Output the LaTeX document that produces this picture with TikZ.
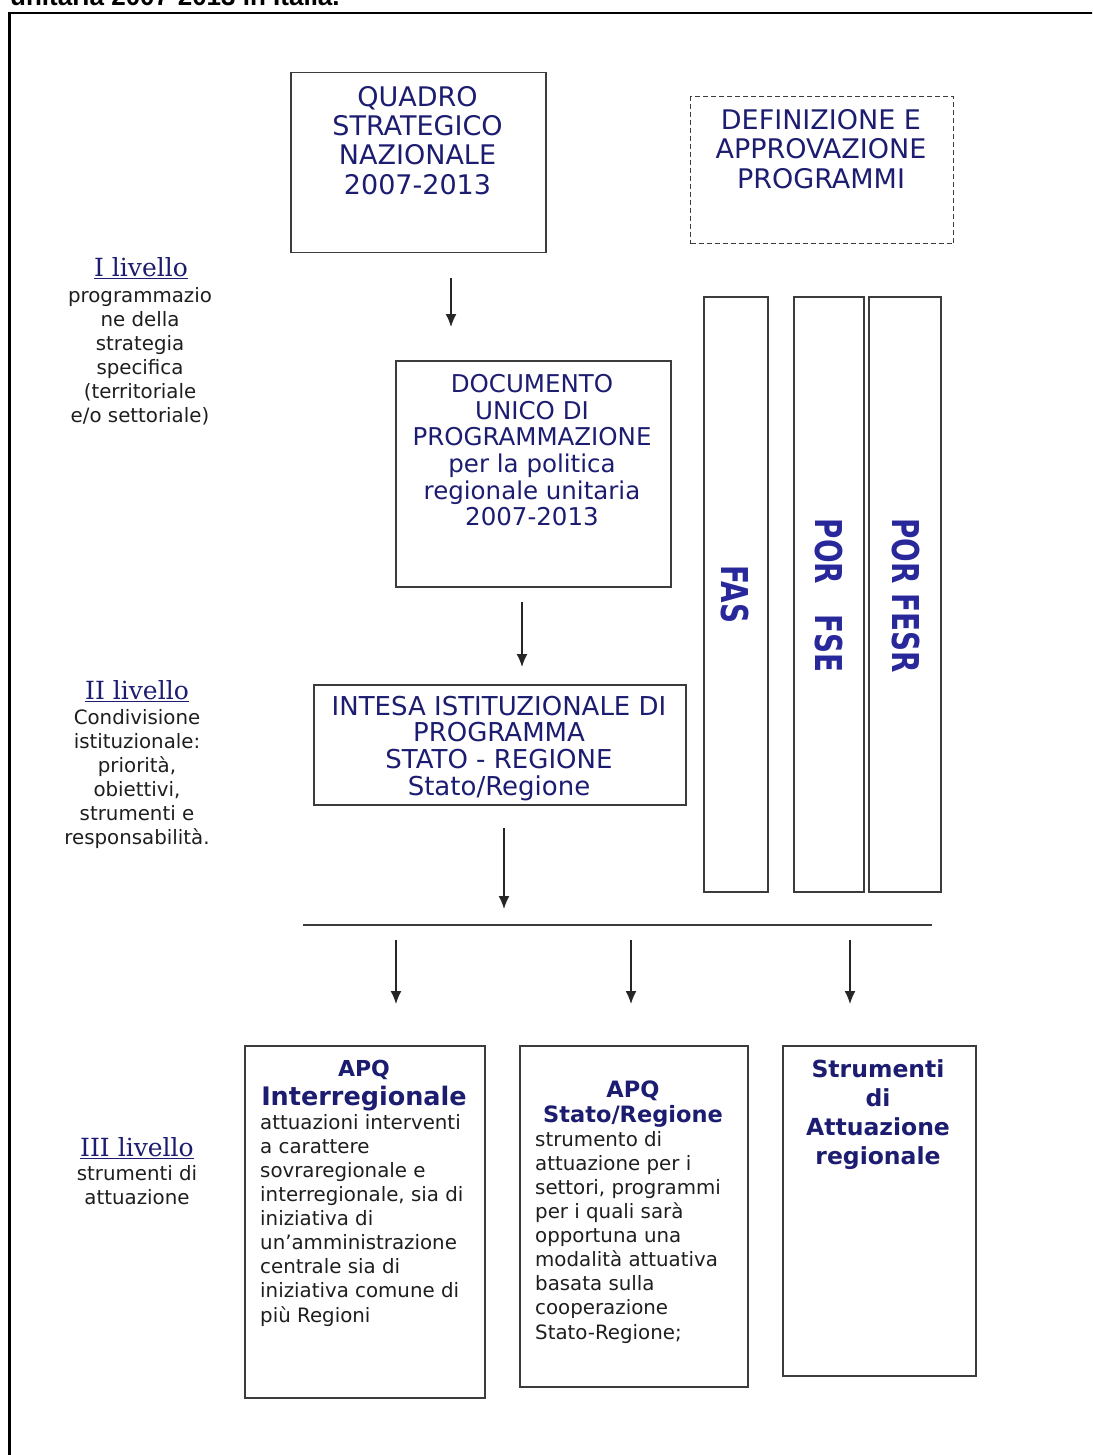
\documentclass[tikz,border=0pt]{standalone}
\usepackage{fontspec}
\setmainfont{DejaVu Sans}
\newfontfamily\lserif{DejaVu Serif}
\newfontfamily\arialb{Liberation Sans}
\usetikzlibrary{arrows.meta}
\definecolor{navy}{RGB}{28,28,112}
\definecolor{fasblue}{RGB}{40,40,155}
\definecolor{bodyc}{RGB}{30,30,30}
\definecolor{boxc}{RGB}{60,60,60}
\tikzset{
  box/.style={draw=boxc, line width=1.5pt, rectangle, inner sep=0, anchor=north west},
  dbox/.style={box, dashed, dash pattern=on 5pt off 3pt, line width=1.3pt},
  txt/.style={inner sep=0, align=center, anchor=north, text=navy},
  body/.style={inner sep=0, align=left, anchor=north west, text=bodyc, font=\fontsize{19.8}{24.1}\selectfont},
  lbody/.style={inner sep=0, align=center, anchor=north, text=bodyc, font=\fontsize{19.8}{24}\selectfont},
  lhead/.style={inner sep=0, anchor=base, text=navy, font=\lserif\fontsize{25}{30}\selectfont},
  vtxt/.style={inner sep=0, rotate=-90, text=fasblue, font=\bfseries\fontsize{37}{40}\selectfont},
  arr/.style={line width=1.5pt, draw=black!85, -{Latex[length=13pt,width=11pt]}},
}
\begin{document}
\begin{tikzpicture}[x=1pt,y=-1pt]
\useasboundingbox (0,0) rectangle (1092,1455);
\clip (0,0) rectangle (1092,1455);
% caption fragment and frame
\node[inner sep=0, anchor=base west, font=\arialb\bfseries\fontsize{26}{30}\selectfont] (title) at (10,6) {unitaria 2007-2013 in Italia.};
\draw[line width=2.5pt] (9.5,1460) -- (9.5,13) -- (1095,13);

% boxes
\node[box, minimum width=255, minimum height=180] (qsn) at (290,72) {};
\node[dbox, minimum width=263, minimum height=147] (def) at (690,96) {};
\node[box, minimum width=275, minimum height=226] (dup) at (395,360) {};
\node[box, minimum width=372, minimum height=120] (intesa) at (313,684) {};
\node[box, minimum width=64, minimum height=595] (fas) at (703,296) {};
\node[box, minimum width=70, minimum height=595] (fse) at (793,296) {};
\node[box, minimum width=72, minimum height=595] (fesr) at (868,296) {};
\node[box, minimum width=240, minimum height=352] (apq1) at (244,1045) {};
\node[box, minimum width=228, minimum height=341] (apq2) at (519,1045) {};
\node[box, minimum width=193, minimum height=330] (strum) at (782,1045) {};

% box texts
\node[txt, font=\fontsize{27}{29.3}\selectfont] (qsnt) at (417.5,86) {QUADRO\\STRATEGICO\\NAZIONALE\\2007-2013};
\node[txt, font=\fontsize{27}{29.5}\selectfont] (deft) at (821,109) {DEFINIZIONE E\\APPROVAZIONE\\PROGRAMMI};
\node[txt, font=\fontsize{24.5}{26.7}\selectfont] (dupt) at (532,374) {DOCUMENTO\\UNICO DI\\PROGRAMMAZIONE\\per la politica\\regionale unitaria\\2007-2013};
\node[txt, font=\fontsize{26}{26.7}\selectfont] (intt) at (499,695.5) {INTESA ISTITUZIONALE DI\\PROGRAMMA\\STATO - REGIONE\\Stato/Regione};

\node[vtxt] (fast) at (735,594.5) {\scalebox{0.75}[1]{FAS}};
\node[vtxt] (fset) at (829,595.5) {\scalebox{0.75}[1]{POR\hspace{40pt}FSE}};
\node[vtxt] (fesrt) at (906,595.5) {\scalebox{0.75}[1]{POR FESR}};

\node[txt, font=\bfseries\fontsize{22}{26}\selectfont] (apq1a) at (364,1060) {APQ};
\node[txt, font=\bfseries\fontsize{25.5}{29}\selectfont] (apq1b) at (364,1086) {Interregionale};
\node[body] (apq1c) at (260,1114) {attuazioni interventi\\a carattere\\sovraregionale e\\interregionale, sia di\\iniziativa di\\un’amministrazione\\centrale sia di\\iniziativa comune di\\più Regioni};

\node[txt, font=\bfseries\fontsize{22.5}{25}\selectfont] (apq2a) at (633,1081) {APQ\\Stato/Regione};
\node[body] (apq2c) at (535,1131) {strumento di\\attuazione per i\\settori, programmi\\per i quali sarà\\opportuna una\\modalità attuativa\\basata sulla\\cooperazione\\Stato-Regione;};

\node[txt, font=\bfseries\fontsize{23.5}{29}\selectfont] (strumt) at (878,1059) {Strumenti\\di\\Attuazione\\regionale};

% left labels
\node[lhead] (l1) at (141,276.5) {\underline{I livello}};
\node[lbody] (l1b) at (140,287) {programmazio\\ne della\\strategia\\specifica\\(territoriale\\e/o settoriale)};
\node[lhead] (l2) at (137,699.5) {\underline{II livello}};
\node[lbody] (l2b) at (137,709) {Condivisione\\istituzionale:\\priorità,\\obiettivi,\\strumenti e\\responsabilità.};
\node[lhead] (l3) at (137,1156.5) {\underline{III livello}};
\node[lbody] (l3b) at (137,1165) {strumenti di\\attuazione};

% connectors
\coordinate (a1s) at (451,278); \coordinate (a1e) at (451,327);
\coordinate (a2s) at (522,602); \coordinate (a2e) at (522,667);
\coordinate (a3s) at (504,828); \coordinate (a3e) at (504,909);
\coordinate (hl) at (303,925); \coordinate (hr) at (932,925);
\coordinate (a4s) at (396,940); \coordinate (a4e) at (396,1004);
\coordinate (a5s) at (631,940); \coordinate (a5e) at (631,1004);
\coordinate (a6s) at (850,940); \coordinate (a6e) at (850,1004);
\draw[arr] (a1s) -- (a1e);
\draw[arr] (a2s) -- (a2e);
\draw[arr] (a3s) -- (a3e);
\draw[line width=1.2pt, boxc] (hl) -- (hr);
\draw[arr] (a4s) -- (a4e);
\draw[arr] (a5s) -- (a5e);
\draw[arr] (a6s) -- (a6e);
\end{tikzpicture}
\end{document}
